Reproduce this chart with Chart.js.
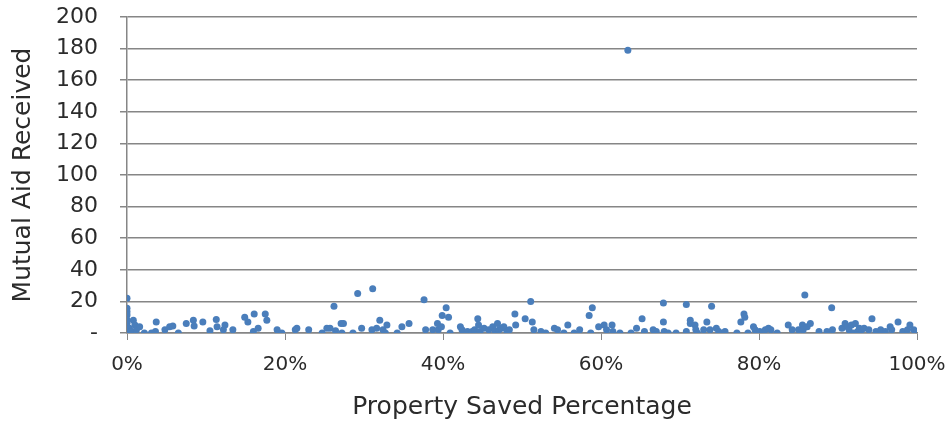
<!DOCTYPE html>
<html>
<head>
<meta charset="utf-8">
<script src="https://cdn.jsdelivr.net/npm/chart.js@4/dist/chart.umd.min.js"></script>
<style>
  html, body { margin: 0; padding: 0; background: #fff; }
  #wrap { width: 946px; height: 425px; }
</style>
</head>
<body>
<div id="wrap"><canvas id="scatterChart"></canvas></div>
<script>
// Property saved (fraction 0..1) and mutual aid received
const propertySaved = [
    0, 0, 0, 0, 0, 0, 0, 0, 0, 0.003, 0.005, 0.008, 0.01, 0.012, 0.016, 0.022, 0.031, 0.036, 0.037, 0.048, 0.054, 0.058, 0.065, 0.075, 0.084, 0.085, 0.096,
    0.105, 0.113, 0.114, 0.122, 0.124, 0.134, 0.149, 0.153, 0.16, 0.161, 0.166, 0.175, 0.177, 0.19, 0.192, 0.196,
    0.213, 0.215, 0.23, 0.247, 0.253, 0.257, 0.262, 0.264, 0.271, 0.272, 0.274, 0.286, 0.292, 0.297,
    0.31, 0.311, 0.316, 0.32, 0.324, 0.327, 0.329, 0.342, 0.348, 0.357, 0.376, 0.378, 0.387, 0.393, 0.394, 0.398, 0.399,
    0.404, 0.407, 0.409, 0.422, 0.424, 0.431, 0.437, 0.44, 0.444, 0.445, 0.447, 0.452, 0.458, 0.463, 0.466, 0.469, 0.471, 0.474, 0.477, 0.481, 0.484, 0.491, 0.492,
    0.504, 0.511, 0.513, 0.515, 0.524, 0.53, 0.541, 0.545, 0.553, 0.558, 0.566, 0.573, 0.585, 0.587, 0.589, 0.597,
    0.604, 0.607, 0.614, 0.615, 0.624, 0.634, 0.638, 0.645, 0.652, 0.655, 0.666, 0.67, 0.679, 0.679, 0.68, 0.685, 0.695,
    0.708, 0.708, 0.713, 0.713, 0.719, 0.72, 0.722, 0.73, 0.734, 0.738, 0.74, 0.746, 0.749, 0.757, 0.772, 0.777, 0.781, 0.782, 0.786, 0.793, 0.795,
    0.801, 0.808, 0.812, 0.815, 0.823, 0.837, 0.842, 0.85, 0.855, 0.856, 0.858, 0.861, 0.865, 0.876, 0.886, 0.892, 0.893,
    0.905, 0.909, 0.912, 0.914, 0.917, 0.92, 0.922, 0.925, 0.927, 0.93, 0.933, 0.939, 0.943, 0.948, 0.954, 0.96, 0.966, 0.968, 0.976, 0.982, 0.988, 0.991, 0.996, 0.999, 1
];
const mutualAid = [
    22, 15.6, 13.5, 11.4, 8.2, 6.1, 4, 1.9, 0, 3, 1, 8, 5, 2, 4, 0, 0, 1, 7, 2, 4, 4.5, 0, 6, 8, 4.5, 7,
    1.5, 8.5, 4, 2, 5, 2, 10, 7, 1, 12, 3, 12, 8, 2, 0, 0,
    2, 3, 2, 0, 3, 3, 17, 1.5, 6, 0, 6, 0, 25, 3,
    2, 28, 3, 8, 2, 0, 5, 0, 4, 6, 21, 2, 2, 6, 2, 4, 11,
    16, 10, 0, 4, 2, 1, 1, 2, 9, 5, 1, 3, 2, 4, 1, 6, 2, 3, 4, 1, 2, 12, 5,
    9, 20, 7, 2, 1, 0, 3, 2, 0, 5, 0, 2, 11, 0, 16, 4,
    5, 2, 5, 1, 0, 179, 0, 3, 9, 1, 2, 1, 19, 7, 1, 0, 0,
    18, 1, 8, 6, 5, 2, 0, 2, 7, 2, 17, 3, 1, 1, 0, 7, 12, 10, 0, 4, 2,
    1, 2, 3, 2, 0, 5, 2, 2, 5, 2, 24, 4, 6, 1, 1, 16, 2,
    3, 6, 4, 2, 5, 0, 6, 1, 3, 2, 3, 2, 9, 1, 2, 1, 4, 2, 7, 1, 2, 5, 2, 0, 1
];

const xTitle = 'Property Saved Percentage';
const yTitle = 'Mutual Aid Received';

const textColor = '#2b2b2b';
const axisColor = '#868686';

Chart.defaults.font.family = "'DejaVu Sans', sans-serif";
Chart.defaults.color = textColor;

const points = propertySaved.map((x, i) => ({ x: x, y: mutualAid[i] }));

const ctx = document.getElementById('scatterChart').getContext('2d');
new Chart(ctx, {
    type: 'scatter',
    data: {
        datasets: [{
            label: yTitle,
            data: points,
            backgroundColor: '#4a7ebb',
            borderColor: '#4a7ebb',
            pointRadius: 3.5,
            pointBorderWidth: 0
        }]
    },
    options: {
        responsive: true,
        maintainAspectRatio: false,
        animation: false,
        layout: { padding: 0 },
        plugins: {
            legend: { display: false },
            tooltip: { enabled: false }
        },
        scales: {
            x: {
                type: 'linear',
                min: 0,
                max: 1,
                ticks: {
                    stepSize: 0.2,
                    padding: 13,
                    font: { size: 20 },
                    callback: v => Math.round(v * 100) + '%'
                },
                grid: {
                    drawOnChartArea: false,
                    drawTicks: true,
                    tickLength: 7,
                    color: axisColor
                },
                border: { display: true, color: axisColor, width: 1.5 },
                title: {
                    display: true,
                    text: xTitle,
                    font: { size: 25 },
                    padding: { top: 6, bottom: 3 }
                },
                // tick padding is otherwise added to the side margins
                afterFit: scale => {
                    scale.height = 92;
                    scale.paddingLeft = 0;
                    scale.paddingRight = 29;
                }
            },
            y: {
                min: 0,
                max: 200,
                ticks: {
                    stepSize: 20,
                    padding: 22,
                    font: { size: 22 },
                    callback: v => (v === 0 ? '-' : v)
                },
                grid: {
                    drawOnChartArea: true,
                    drawTicks: true,
                    tickLength: 7,
                    color: axisColor,
                    lineWidth: 1.5
                },
                border: { display: true, color: axisColor, width: 1.5 },
                title: {
                    display: true,
                    text: yTitle,
                    font: { size: 25 },
                    padding: { top: 8, bottom: 4 }
                },
                afterFit: scale => {
                    scale.width = 127;
                    scale.paddingTop = 17;
                    scale.paddingBottom = 0;
                }
            }
        }
    }
});
</script>
</body>
</html>
